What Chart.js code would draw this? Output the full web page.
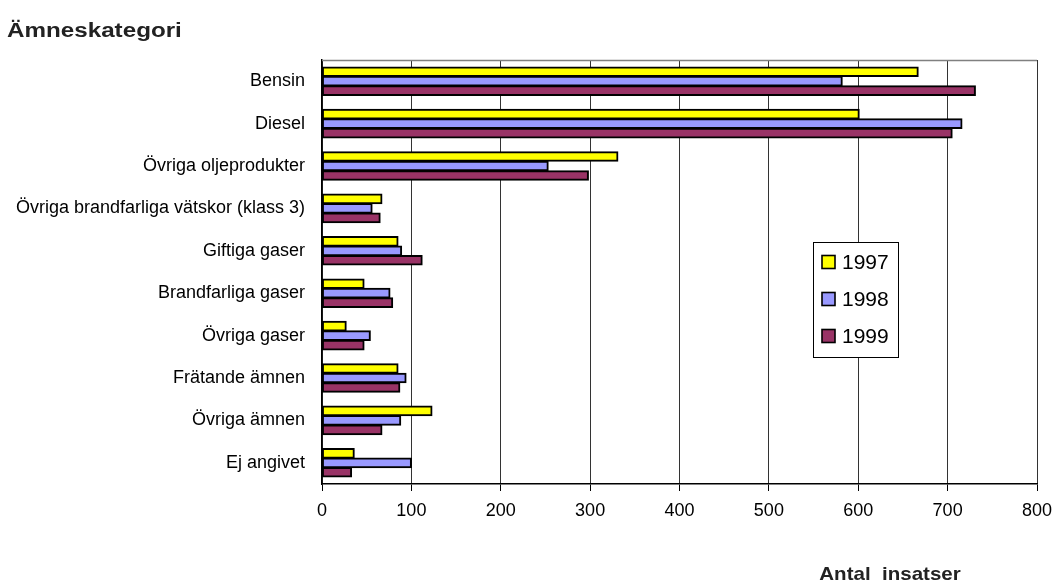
<!DOCTYPE html>
<html>
<head>
<meta charset="utf-8">
<script src="https://cdn.jsdelivr.net/npm/chart.js@4/dist/chart.umd.min.js"></script>
<style>
  html, body { margin: 0; padding: 0; background: #fff; }
  #wrap { width: 1058px; height: 583px; position: relative; }
</style>
</head>
<body>
<div id="wrap"><canvas id="c" width="1058" height="583"></canvas></div>
<script>
// Räddningsinsatser per ämneskategori, 1997–1999
const categories = [
  'Bensin',
  'Diesel',
  'Övriga oljeprodukter',
  'Övriga brandfarliga vätskor (klass 3)',
  'Giftiga gaser',
  'Brandfarliga gaser',
  'Övriga gaser',
  'Frätande ämnen',
  'Övriga ämnen',
  'Ej angivet'
];
const years = ['1997', '1998', '1999'];
const values1997 = [667, 601, 331, 67, 85, 47, 27, 85, 123, 36];
const values1998 = [582, 716, 253, 56, 89, 76, 54, 94, 88, 100];
const values1999 = [731, 705, 298, 65, 112, 79, 47, 87, 67, 33];
const xTicks = [0, 100, 200, 300, 400, 500, 600, 700, 800];

const colors = ['#FFFF00', '#9999FF', '#993366'];
const FONT = "'Liberation Sans', Arial, sans-serif";

// draws text stretched horizontally by sx around its anchor
function stretchedText(ctx, text, x, y, sx, align) {
  ctx.save();
  ctx.translate(x, y);
  ctx.scale(sx, 1);
  ctx.textAlign = align;
  ctx.fillText(text, 0, 0);
  ctx.restore();
}

// Heading, axis caption, frame top and the boxed legend
const decorations = {
  id: 'decorations',
  afterDatasetsDraw(chart) {
    const ctx = chart.ctx;
    const a = chart.chartArea;
    ctx.save();
    // grey top frame line
    ctx.strokeStyle = '#808080';
    ctx.lineWidth = 1.5;
    ctx.beginPath();
    ctx.moveTo(a.left, a.top + 0.5);
    ctx.lineTo(a.right, a.top + 0.5);
    ctx.stroke();

    // legend box
    const lx = 813, ly = 242, lw = 85, lh = 115;
    ctx.fillStyle = '#fff';
    ctx.fillRect(lx, ly, lw, lh);
    ctx.strokeStyle = '#000';
    ctx.lineWidth = 1;
    ctx.strokeRect(lx + 0.5, ly + 0.5, lw, lh);
    ctx.font = '21px ' + FONT;
    ctx.textBaseline = 'middle';
    ctx.textAlign = 'left';
    chart.data.datasets.forEach((ds, i) => {
      const cy = 262 + i * 37;
      ctx.fillStyle = ds.backgroundColor;
      ctx.fillRect(822, cy - 6.5, 13, 13);
      ctx.strokeStyle = '#000';
      ctx.lineWidth = 1.6;
      ctx.strokeRect(822, cy - 6.5, 13, 13);
      ctx.fillStyle = '#000';
      ctx.fillText(ds.label, 842, cy + 1);
    });
    ctx.restore();
  },
  afterDraw(chart) {
    const ctx = chart.ctx;
    ctx.save();
    ctx.fillStyle = '#222';
    ctx.textBaseline = 'middle';
    ctx.font = 'bold 20px ' + FONT;
    stretchedText(ctx, 'Ämneskategori', 7, 31, 1.21, 'left');
    ctx.font = 'bold 19px ' + FONT;
    stretchedText(ctx, 'Antal  insatser', 890, 575, 1.08, 'center');
    ctx.restore();
  }
};

new Chart(document.getElementById('c'), {
  type: 'bar',
  data: {
    labels: categories,
    datasets: [
      { label: years[0], data: values1997, backgroundColor: colors[0] },
      { label: years[1], data: values1998, backgroundColor: colors[1] },
      { label: years[2], data: values1999, backgroundColor: colors[2] }
    ].map(d => Object.assign(d, {
      borderColor: '#000',
      borderWidth: 2,
      borderSkipped: false,
      inflateAmount: 0.6,
      categoryPercentage: 0.67,
      barPercentage: 1.0
    }))
  },
  options: {
    indexAxis: 'y',
    responsive: false,
    animation: false,
    devicePixelRatio: 1,
    layout: { padding: { top: 60, right: 21, left: 0, bottom: 0 } },
    plugins: {
      legend: { display: false },
      tooltip: { enabled: false }
    },
    scales: {
      x: {
        min: 0,
        max: 800,
        afterBuildTicks(scale) {
          scale.ticks = xTicks.map(v => ({ value: v }));
        },
        afterFit(scale) {
          scale.height = 99;
          scale.paddingLeft = 0;
          scale.paddingRight = 0;
        },
        grid: {
          color: '#333',
          lineWidth: 1,
          drawTicks: true,
          tickLength: 7,
          tickColor: '#000'
        },
        border: { display: true, color: '#000', width: 1.5 },
        ticks: {
          color: '#000',
          padding: 9,
          font: { family: FONT, size: 18 },
          maxRotation: 0
        }
      },
      y: {
        afterFit(scale) {
          scale.width = 322;
          scale.paddingTop = 0;
          scale.paddingBottom = 0;
        },
        grid: { display: false, drawTicks: false },
        border: { display: true, color: '#000', width: 1.5 },
        ticks: {
          color: '#000',
          padding: 17,
          autoSkip: false,
          font: { family: FONT, size: 18 }
        }
      }
    }
  },
  plugins: [decorations]
});
</script>
</body>
</html>
